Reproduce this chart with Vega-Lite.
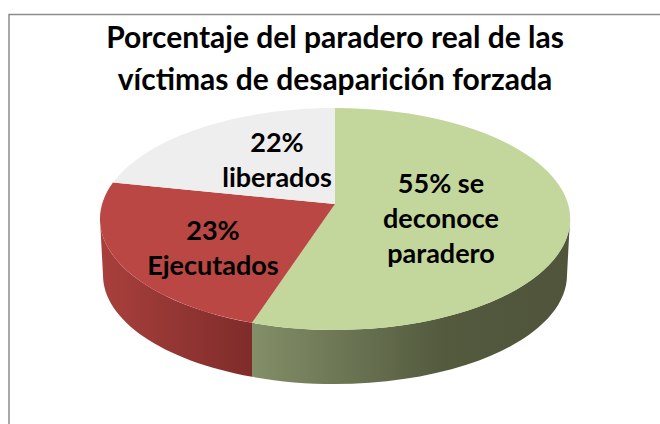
{
"$schema":"https://vega.github.io/schema/vega-lite/v6.json",
"width":660,"height":424,"padding":0,"autosize":{"type":"none"},
"background":"white",
"config":{"view":{"stroke":null}},
"title":{"text":["Porcentaje del paradero real de las","víctimas de desaparición forzada"],"orient":"top","anchor":"middle","frame":"group","offset":-96,"dx":5,"font":"Lato","fontWeight":"bold","fontSize":30,"lineHeight":42,"color":"#000000"},
"data":{"values":[
{"categoria":"se deconoce paradero","porcentaje":55,"etiqueta":["55%  se","deconoce","paradero"]},
{"categoria":"Ejecutados","porcentaje":23,"etiqueta":["23%","Ejecutados"]},
{"categoria":"liberados","porcentaje":22,"etiqueta":["22%","liberados"]}
]},
"layer":[
{"data":{"values":[{"marco":"borde"}]},"mark":{"type":"point","filled":false,"opacity":1,"fill":"transparent","stroke":"#8c8c8c","strokeWidth":1.5,"shape":"M-321,212 L-321,-197.5 L330,-197.5"},"encoding":{"size":{"value":4}}},
{"transform":[{"filter":"datum.categoria=='se deconoce paradero'"}],"mark":{"type":"point","filled":true,"opacity":1,"shape":"M240,7 A235,111 0 0 1 -78,110.8 L-78,164.8 A232,109 0 0 0 237,63 Z","fill":{"gradient":"linear","x1":0,"y1":0,"x2":1,"y2":0,"stops":[{"offset":0,"color":"#838F68"},{"offset":0.6,"color":"#535A3E"},{"offset":1,"color":"#4F543A"}]}},"encoding":{"size":{"value":4}}},
{"transform":[{"filter":"datum.categoria=='Ejecutados'"}],"mark":{"type":"point","filled":true,"opacity":1,"shape":"M-78,110.8 A235,111 0 0 1 -230,7 L-227,63 A232,109 0 0 0 -78,164.8 Z","fill":{"gradient":"linear","x1":0,"y1":0,"x2":1,"y2":0,"stops":[{"offset":0,"color":"#A8403D"},{"offset":1,"color":"#7F2C2A"}]}},"encoding":{"size":{"value":4}}},
{"mark":{"type":"point","filled":true,"opacity":1},"encoding":{
"size":{"value":4},
"shape":{"field":"categoria","type":"nominal","legend":null,"scale":{"domain":["se deconoce paradero","Ejecutados","liberados"],"range":["M5,-8 L5,-104 A235,111 0 1 1 -78,110.8 Z","M5,-8 L-78,110.8 A235,111 0 0 1 -217,-29.4 Z","M5,-8 L-217,-29.4 A235,111 0 0 1 5,-104 Z"]}},
"fill":{"field":"categoria","type":"nominal","legend":null,"scale":{"domain":["se deconoce paradero","Ejecutados","liberados"],"range":["#C3D69B","#BA4743","#EEEEEE"]}}}},
{"transform":[{"filter":"datum.categoria=='se deconoce paradero'"}],"mark":{"type":"text","font":"Lato","fontWeight":"bold","fontSize":27,"lineHeight":35,"color":"#000000","align":"center","baseline":"middle","dx":111,"dy":-27},"encoding":{"text":{"field":"etiqueta"}}},
{"transform":[{"filter":"datum.categoria=='Ejecutados'"}],"mark":{"type":"text","font":"Lato","fontWeight":"bold","fontSize":27,"lineHeight":35,"color":"#000000","align":"center","baseline":"middle","dx":-117,"dy":20},"encoding":{"text":{"field":"etiqueta"}}},
{"transform":[{"filter":"datum.categoria=='liberados'"}],"mark":{"type":"text","font":"Lato","fontWeight":"bold","fontSize":27,"lineHeight":35,"color":"#000000","align":"center","baseline":"middle","dx":-53,"dy":-68},"encoding":{"text":{"field":"etiqueta"}}}
]
}
